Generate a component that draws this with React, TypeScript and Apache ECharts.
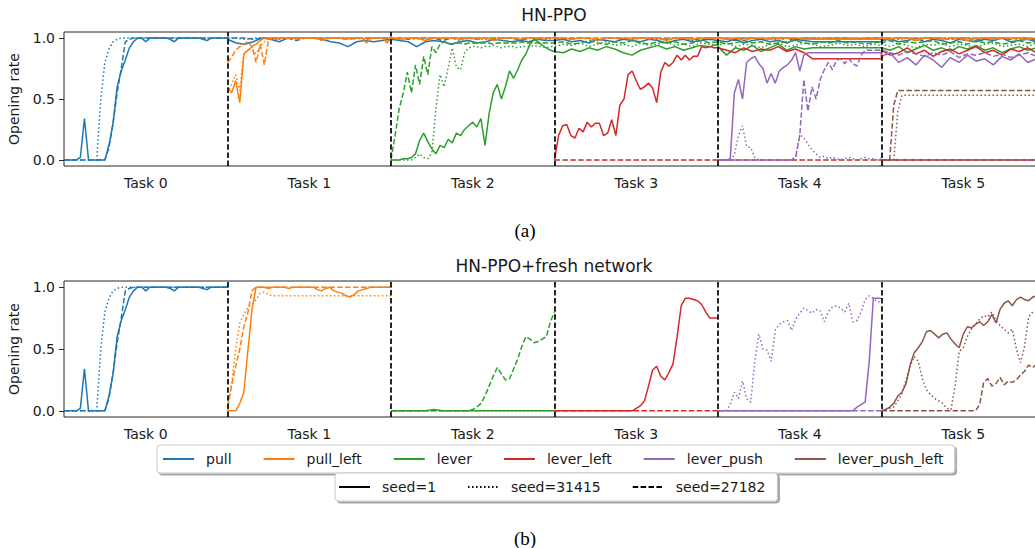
import React, { useEffect, useRef } from "react";
import * as echarts from "echarts";

// ---------- categories / labels ----------
const TASK_LABELS = ["Task 0", "Task 1", "Task 2", "Task 3", "Task 4", "Task 5"];
const TASK_LABEL_POS = [0.5, 1.5, 2.5, 3.5, 4.5, 5.5];
const TASK_BOUNDARIES = [1, 2, 3, 4, 5];
const Y_TICKS = [0, 0.5, 1];
const ENVS = ["pull", "pull_left", "lever", "lever_left", "lever_push", "lever_push_left"];
const ENV_COLORS = ["#1f77b4", "#ff7f0e", "#2ca02c", "#d62728", "#9467bd", "#8c564b"];
const SEEDS = ["seed=1", "seed=31415", "seed=27182"];
const TITLES = ["HN-PPO", "HN-PPO+fresh network"];
const CAPTIONS = ["(a)", "(b)"];

// ---------- HN-PPO (top) : one list per task segment, starting at the run's own task ----------
const hnPull1 = [
  [0, 0, 0, 0, 0.02, 0.34, 0, 0, 0, 0, 0, 0.12, 0.3, 0.6, 0.73, 0.82, 0.92, 0.97, 1, 1, 0.97, 1, 1, 1, 1, 1, 0.99, 0.97, 1, 1, 1, 1, 1, 1, 0.99, 0.98, 1, 1, 1, 1, 1],
  [0.99, 0.96, 0.95, 0.97, 1, 0.99, 0.97, 1, 1, 1, 1, 0.99, 0.97, 0.96, 0.93, 0.97, 0.98, 0.97, 0.98, 0.99],
  [0.99, 0.98, 0.97, 0.93, 0.97, 0.98, 0.97, 0.95, 0.97, 0.98, 0.96, 0.97, 0.99, 0.98, 0.97, 0.98, 0.97, 0.99, 0.98, 0.98],
  [0.98, 0.99, 0.97, 0.98, 0.96, 0.99, 0.98, 0.97, 0.99, 0.98, 0.97, 0.99, 0.98, 0.96, 0.98, 0.99, 0.97, 0.98, 0.99, 0.98],
  [0.98, 0.97, 0.99, 0.96, 0.98, 0.99, 0.97, 0.98, 0.96, 0.99, 0.98, 0.97, 0.97, 0.97, 0.97, 0.97, 0.97, 0.97, 0.97, 0.97],
  [0.98, 0.99, 0.97, 0.98, 1, 0.97, 0.99, 0.98, 0.96, 0.99, 0.98, 0.97, 0.99, 0.98, 1, 0.97, 0.98, 0.99, 0.97, 0.98],
];
const hnPull2 = [
  [0, 0, 0, 0, 0, 0, 0, 0, 0, 0.5, 0.8, 0.91, 0.97, 0.99, 1, 1, 1, 1, 1, 1, 1, 1, 1, 1, 1, 1, 1, 1, 1, 1, 1, 1, 1, 1, 1, 1, 1, 1, 1, 1, 1],
  [1, 1, 0.99, 1, 1, 1, 0.99, 1, 1, 1, 1, 0.99, 1, 1, 1, 1, 0.99, 1, 1, 1],
  [1, 0.99, 1, 1, 0.99, 1, 1, 1, 0.98, 1, 1, 0.99, 1, 1, 1, 0.99, 1, 1, 0.99, 1],
  [1, 1, 0.99, 1, 1, 0.98, 1, 1, 1, 0.99, 1, 1, 0.99, 1, 1, 1, 0.98, 1, 1, 1],
  [1, 0.99, 1, 1, 1, 0.99, 1, 0.98, 1, 1, 0.99, 1, 1, 1, 0.99, 1, 1, 0.99, 1, 1],
  [1, 1, 0.99, 1, 0.98, 1, 1, 0.99, 1, 1, 1, 0.99, 1, 0.98, 1, 1, 0.99, 1, 1, 1],
];
const hnPull3 = [
  [0, 0, 0, 0, 0, 0, 0, 0, 0, 0, 0, 0.1, 0.3, 0.55, 0.75, 0.97, 0.99, 1, 1, 1, 1, 1, 1, 1, 1, 1, 1, 1, 1, 1, 1, 1, 1, 1, 1, 1, 1, 1, 1, 1, 1],
  [1, 1, 1, 0.99, 1, 1, 1, 1, 0.98, 1, 1, 1, 1, 1, 0.99, 1, 1, 1, 1, 1],
  [1, 1, 0.99, 1, 1, 1, 0.98, 1, 1, 1, 0.99, 1, 1, 1, 1, 0.98, 1, 1, 1, 1],
  [1, 0.99, 1, 1, 1, 0.98, 1, 1, 0.99, 1, 1, 1, 1, 0.99, 1, 1, 1, 0.98, 1, 1],
  [1, 1, 0.98, 1, 1, 0.99, 1, 1, 1, 0.98, 1, 1, 0.99, 1, 1, 1, 0.99, 1, 1, 1],
  [1, 0.99, 1, 1, 0.98, 1, 1, 1, 0.99, 1, 1, 0.98, 1, 1, 1, 0.99, 1, 1, 0.98, 1],
];
const hnPullLeft1 = [
  [0.6, 0.55, 0.65, 0.47, 0.87, 0.9, 0.93, 0.95, 0.98, 1, 1, 1, 0.99, 1, 1, 1, 1, 0.99, 1, 1, 1, 1, 1, 0.98, 1, 1, 1, 1, 1, 0.99, 1, 1, 1, 1, 0.96, 1, 1, 1, 1, 0.96, 1],
  [1, 0.99, 1, 1, 0.98, 1, 1, 1, 0.99, 1, 1, 1, 0.98, 1, 1, 0.99, 1, 1, 1, 1],
  [1, 1, 0.99, 1, 1, 0.98, 1, 1, 1, 0.99, 1, 1, 1, 0.98, 1, 1, 0.99, 1, 1, 1],
  [1, 0.99, 1, 0.98, 1, 1, 0.99, 1, 1, 1, 0.99, 0.99, 0.99, 0.99, 0.99, 0.99, 0.99, 0.99, 0.99, 0.99],
  [1, 0.99, 1, 1, 0.98, 1, 1, 0.99, 1, 1, 0.98, 1, 1, 0.99, 1, 1, 1, 0.99, 1, 1],
];
const hnPullLeft2 = [
  [0.55, 0.62, 0.7, 0.57, 0.88, 0.9, 0.91, 0.87, 0.93, 0.97, 1, 1, 1, 1, 0.99, 1, 1, 1, 1, 1, 1, 1, 0.99, 1, 1, 1, 1, 1, 1, 1, 1, 0.99, 1, 1, 1, 1, 1, 1, 1, 1, 1],
  [1, 1, 1, 0.99, 1, 1, 1, 1, 1, 1, 0.99, 1, 1, 1, 1, 1, 1, 0.99, 1, 1],
  [1, 1, 1, 1, 0.99, 1, 1, 1, 1, 1, 1, 0.99, 1, 1, 1, 1, 1, 1, 1, 1],
  [1, 0.99, 1, 1, 1, 1, 1, 0.99, 1, 1, 1, 1, 1, 1, 0.99, 1, 1, 1, 1, 1],
  [1, 1, 1, 0.99, 1, 1, 1, 1, 1, 0.99, 1, 1, 1, 1, 1, 1, 0.99, 1, 1, 1],
];
const hnPullLeft3 = [
  [0.8, 0.84, 0.9, 0.93, 0.95, 0.97, 0.93, 0.8, 0.95, 0.78, 0.98, 1, 1, 1, 1, 1, 1, 1, 1, 1, 1, 1, 1, 1, 1, 1, 1, 1, 1, 1, 1, 1, 1, 1, 1, 1, 1, 1, 1, 1, 1],
  [1, 1],
  [1, 1],
  [1, 1],
  [1, 1],
];
const hnLever1 = [
  [0, 0, 0, 0.01, 0.01, 0.02, 0.05, 0.16, 0.22, 0.15, 0.09, 0.05, 0.12, 0.1, 0.17, 0.14, 0.22, 0.2, 0.25, 0.28, 0.31, 0.27, 0.34, 0.12, 0.38, 0.55, 0.62, 0.5, 0.6, 0.73, 0.67, 0.74, 0.82, 0.87, 0.95, 0.99, 0.97, 0.94, 0.92, 0.9, 0.89],
  [0.89, 0.88, 0.91, 0.89, 0.92, 0.9, 0.93, 0.91, 0.88, 0.86, 0.9, 0.92, 0.94, 0.91, 0.93, 0.9, 0.92, 0.94, 0.93, 0.95],
  [0.93, 0.86, 0.92, 0.9, 0.94, 0.89, 0.92, 0.95, 0.9, 0.93, 0.91, 0.92, 0.92, 0.92, 0.92, 0.92, 0.92, 0.92, 0.92, 0.92],
  [0.92, 0.9, 0.93, 0.88, 0.91, 0.94, 0.9, 0.92, 0.89, 0.93, 0.91, 0.94, 0.9, 0.92, 0.88, 0.91, 0.93, 0.9, 0.92, 0.91],
];
const hnLever2 = [
  [0, 0, 0, 0, 0, 0, 0.02, 0.05, 0.02, 0.01, 0.06, 0.42, 0.7, 0.6, 0.76, 0.92, 0.76, 0.74, 0.88, 0.92, 0.93, 0.93, 0.92, 0.93, 0.93, 0.94, 0.93, 0.92, 0.93, 0.93, 0.93, 0.92, 0.93, 0.93, 0.93, 0.94, 0.93, 0.93, 0.92, 0.93, 0.93],
  [0.93, 0.95, 0.94, 0.96, 0.93, 0.95, 0.97, 0.94, 0.95, 0.93, 0.96, 0.94, 0.95, 0.97, 0.94, 0.95, 0.93, 0.96, 0.95, 0.94],
  [0.94, 0.96, 0.93, 0.95, 0.94, 0.92, 0.95, 0.96, 0.93, 0.94, 0.96, 0.95, 0.93, 0.94, 0.96, 0.94, 0.95, 0.93, 0.95, 0.94],
  [0.95, 0.93, 0.96, 0.94, 0.92, 0.95, 0.94, 0.96, 0.93, 0.95, 0.94, 0.92, 0.95, 0.96, 0.93, 0.94, 0.95, 0.93, 0.96, 0.94],
];
const hnLever3 = [
  [0, 0.2, 0.42, 0.55, 0.72, 0.55, 0.78, 0.62, 0.85, 0.7, 0.93, 0.88, 0.95, 0.97, 0.96, 0.95, 0.96, 0.96, 0.95, 0.96, 0.96, 0.96, 0.96, 0.96, 0.96, 0.95, 0.96, 0.96, 0.96, 0.96, 0.96, 0.96, 0.97, 0.96, 0.96, 0.96, 0.96, 0.96, 0.96, 0.96, 0.96],
  [0.96, 0.97, 0.95, 0.96, 0.98, 0.96, 0.95, 0.97, 0.96, 0.98, 0.96, 0.95, 0.97, 0.96, 0.97, 0.95, 0.96, 0.98, 0.96, 0.97],
  [0.97, 0.95, 0.96, 0.98, 0.96, 0.97, 0.95, 0.96, 0.97, 0.98, 0.96, 0.95, 0.97, 0.96, 0.98, 0.96, 0.97, 0.95, 0.96, 0.97],
  [0.96, 0.98, 0.95, 0.97, 0.96, 0.97, 0.98, 0.95, 0.96, 0.97, 0.95, 0.98, 0.96, 0.97, 0.95, 0.96, 0.98, 0.96, 0.97, 0.96],
];
const hnLeverLeft1 = [
  [0, 0.2, 0.28, 0.29, 0.2, 0.18, 0.26, 0.23, 0.31, 0.27, 0.3, 0.3, 0.2, 0.22, 0.33, 0.2, 0.45, 0.5, 0.7, 0.73, 0.65, 0.58, 0.6, 0.63, 0.59, 0.47, 0.72, 0.8, 0.77, 0.8, 0.86, 0.82, 0.86, 0.82, 0.85, 0.85, 0.93, 0.92, 0.93, 0.92, 0.92],
  [0.92, 0.9, 0.88, 0.92, 0.89, 0.91, 0.9, 0.93, 0.89, 0.91, 0.88, 0.83, 0.83, 0.83, 0.83, 0.83, 0.83, 0.83, 0.83, 0.83],
  [0.9, 0.86, 0.88, 0.92, 0.87, 0.9, 0.85, 0.89, 0.91, 0.87, 0.9, 0.93, 0.88, 0.9, 0.86, 0.91, 0.89, 0.92, 0.88, 0.9],
];
const hnLeverLeft3 = [[0, 0], [0, 0], [0, 0]];
const hnLeverPush1 = [
  [0, 0, 0, 0.01, 0.55, 0.66, 0.5, 0.8, 0.83, 0.85, 0.79, 0.75, 0.63, 0.71, 0.63, 0.73, 0.76, 0.78, 0.82, 0.88, 0.73, 0.86, 0.88, 0.88, 0.88, 0.88, 0.88, 0.88, 0.88, 0.88, 0.88, 0.88, 0.88, 0.88, 0.88, 0.88, 0.88, 0.88, 0.88, 0.88, 0.88],
  [0.85, 0.88, 0.8, 0.84, 0.78, 0.86, 0.82, 0.76, 0.84, 0.8, 0.86, 0.81, 0.83, 0.78, 0.85, 0.82, 0.87, 0.8, 0.83, 0.79],
];
const hnLeverPush2 = [
  [0, 0, 0, 0, 0.04, 0.2, 0.28, 0.11, 0.1, 0.02, 0, 0, 0, 0, 0, 0, 0, 0, 0, 0.03, 0.21, 0.18, 0.13, 0.08, 0.05, 0.02, 0.03, 0.01, 0.02, 0.01, 0, 0.01, 0.02, 0.01, 0, 0.01, 0.02, 0.01, 0.01, 0, 0.01],
  [0, 0],
];
const hnLeverPush3 = [
  [0, 0, 0, 0, 0, 0, 0, 0, 0, 0, 0, 0, 0, 0, 0, 0, 0, 0, 0, 0.02, 0.2, 0.66, 0.4, 0.6, 0.5, 0.66, 0.74, 0.8, 0.74, 0.82, 0.83, 0.79, 0.83, 0.79, 0.77, 0.86, 0.9, 0.9, 0.9, 0.9, 0.9],
  [0.9, 0.88, 0.86, 0.89, 0.87, 0.85, 0.88, 0.86, 0.89, 0.84, 0.87, 0.86, 0.88, 0.85, 0.87, 0.84, 0.86, 0.88, 0.85, 0.87],
];
const hnLeverPushLeft1 = [[0, 0]];
const hnLeverPushLeft2 = [
  [0, 0, 0, 0, 0.4, 0.53, 0.53, 0.53, 0.53, 0.53, 0.53, 0.53, 0.53, 0.53, 0.53, 0.53, 0.53, 0.53, 0.53, 0.53, 0.53, 0.53, 0.53, 0.53, 0.53, 0.53, 0.53, 0.53, 0.53, 0.53, 0.53, 0.53, 0.53, 0.53, 0.53, 0.53, 0.53, 0.53, 0.53, 0.53, 0.53],
];
const hnLeverPushLeft3 = [
  [0, 0, 0, 0.45, 0.57, 0.57, 0.57, 0.57, 0.57, 0.57, 0.57, 0.57, 0.57, 0.57, 0.57, 0.57, 0.57, 0.57, 0.57, 0.57, 0.57, 0.57, 0.57, 0.57, 0.57, 0.57, 0.57, 0.57, 0.57, 0.57, 0.57, 0.57, 0.57, 0.57, 0.57, 0.57, 0.57, 0.57, 0.57, 0.57, 0.57],
];

// ---------- HN-PPO + fresh network (bottom): each env only on its own task ----------
const frPullLeft1 = [0, 0, 0, 0.06, 0.15, 0.49, 0.82, 1, 1, 1, 0.99, 1, 1, 1, 1, 0.99, 1, 1, 1, 1, 1, 1, 0.98, 0.97, 0.99, 1, 0.97, 0.96, 0.95, 0.93, 0.92, 0.94, 0.97, 0.98, 0.99, 1, 1, 1, 1, 1, 1];
const frPullLeft2 = [0, 0.22, 0.5, 0.71, 0.78, 0.84, 0.86, 0.9, 0.95, 0.96, 0.94, 0.93, 0.93, 0.93, 0.93, 0.93, 0.93, 0.93, 0.93, 0.93, 0.93, 0.93, 0.93, 0.93, 0.93, 0.93, 0.93, 0.93, 0.93, 0.93, 0.93, 0.93, 0.93, 0.93, 0.93, 0.93, 0.93, 0.93, 0.93, 0.93, 0.93];
const frPullLeft3 = [0.03, 0.2, 0.36, 0.5, 0.68, 0.8, 0.97, 1, 1, 1, 1, 1, 1, 1, 1, 1, 1, 1, 1, 1, 1, 1, 1, 1, 1, 1, 1, 1, 1, 1, 1, 1, 1, 1, 1, 1, 1, 1, 1, 1, 1];
const frLever1 = [0, 0, 0, 0, 0, 0.01, 0, 0, 0, 0, 0, 0, 0, 0, 0, 0, 0, 0, 0, 0];
const frLever2 = [0, 0];
const frLever3 = [0, 0, 0, 0, 0, 0, 0, 0, 0, 0, 0, 0, 0, 0, 0, 0, 0, 0, 0, 0, 0.01, 0.03, 0.06, 0.12, 0.2, 0.28, 0.35, 0.3, 0.25, 0.26, 0.34, 0.42, 0.52, 0.6, 0.58, 0.55, 0.56, 0.58, 0.6, 0.72, 0.8];
const frLeverLeft1 = [0, 0, 0, 0, 0, 0, 0, 0, 0, 0, 0, 0, 0, 0, 0, 0, 0, 0, 0, 0, 0.02, 0.04, 0.08, 0.2, 0.33, 0.36, 0.28, 0.25, 0.31, 0.38, 0.6, 0.85, 0.91, 0.91, 0.9, 0.89, 0.86, 0.8, 0.75, 0.75, 0.75];
const frLeverLeft3 = [0, 0];
const frLeverPush1 = [0, 0, 0, 0, 0, 0, 0, 0, 0, 0, 0, 0, 0, 0, 0, 0, 0, 0, 0, 0, 0, 0, 0, 0, 0, 0, 0, 0, 0, 0, 0, 0, 0, 0, 0.03, 0.05, 0.07, 0.4, 0.91, 0.91, 0.91];
const frLeverPush2 = [0, 0, 0, 0.05, 0.15, 0.1, 0.24, 0.1, 0.07, 0.4, 0.62, 0.5, 0.49, 0.4, 0.65, 0.7, 0.72, 0.73, 0.65, 0.74, 0.79, 0.83, 0.81, 0.79, 0.82, 0.81, 0.72, 0.8, 0.84, 0.85, 0.83, 0.8, 0.87, 0.72, 0.73, 0.8, 0.9, 0.93, 0.91, 0.88, 0.88];
const frLeverPush3 = [0, 0];
const frLeverPushLeft1 = [0, 0.01, 0.03, 0.06, 0.12, 0.15, 0.22, 0.37, 0.47, 0.51, 0.56, 0.64, 0.65, 0.62, 0.59, 0.62, 0.63, 0.58, 0.54, 0.51, 0.62, 0.68, 0.67, 0.7, 0.72, 0.69, 0.72, 0.78, 0.71, 0.82, 0.87, 0.89, 0.85, 0.9, 0.92, 0.9, 0.89, 0.92, 0.93, 0.91, 0.92];
const frLeverPushLeft2 = [0, 0.01, 0.02, 0.03, 0.08, 0.14, 0.25, 0.36, 0.44, 0.4, 0.26, 0.17, 0.13, 0.1, 0.08, 0.06, 0.02, 0.01, 0.2, 0.48, 0.51, 0.6, 0.66, 0.7, 0.74, 0.77, 0.76, 0.8, 0.73, 0.69, 0.66, 0.63, 0.66, 0.5, 0.39, 0.52, 0.76, 0.8, 0.81, 0.8, 0.82];
const frLeverPushLeft3 = [0, 0, 0, 0, 0, 0, 0, 0, 0, 0, 0, 0, 0, 0, 0, 0, 0, 0, 0, 0, 0, 0, 0, 0, 0.05, 0.23, 0.26, 0.2, 0.22, 0.27, 0.21, 0.24, 0.23, 0.25, 0.29, 0.32, 0.37, 0.35, 0.38, 0.36, 0.4];

type Run = { env: number; seed: number; start: number; segs: number[][]; z?: number };

const TOP_RUNS: Run[] = [
  { env: 0, seed: 0, start: 0, segs: hnPull1 },
  { env: 0, seed: 1, start: 0, segs: hnPull2 },
  { env: 0, seed: 2, start: 0, segs: hnPull3 },
  { env: 1, seed: 0, start: 1, segs: hnPullLeft1 },
  { env: 1, seed: 1, start: 1, segs: hnPullLeft2 },
  { env: 1, seed: 2, start: 1, segs: hnPullLeft3 },
  { env: 2, seed: 0, start: 2, segs: hnLever1 },
  { env: 2, seed: 1, start: 2, segs: hnLever2 },
  { env: 2, seed: 2, start: 2, segs: hnLever3 },
  { env: 3, seed: 0, start: 3, segs: hnLeverLeft1 },
  { env: 3, seed: 2, start: 3, segs: hnLeverLeft3 },
  { env: 4, seed: 0, start: 4, segs: hnLeverPush1 },
  { env: 4, seed: 1, start: 4, segs: hnLeverPush2 },
  { env: 4, seed: 2, start: 4, segs: hnLeverPush3 },
  { env: 5, seed: 0, start: 5, segs: hnLeverPushLeft1, z: 1 },
  { env: 5, seed: 1, start: 5, segs: hnLeverPushLeft2 },
  { env: 5, seed: 2, start: 5, segs: hnLeverPushLeft3 },
];

const BOTTOM_RUNS: Run[] = [
  { env: 0, seed: 0, start: 0, segs: [hnPull1[0]] },
  { env: 0, seed: 1, start: 0, segs: [hnPull2[0]] },
  { env: 0, seed: 2, start: 0, segs: [hnPull3[0]] },
  { env: 1, seed: 0, start: 1, segs: [frPullLeft1] },
  { env: 1, seed: 1, start: 1, segs: [frPullLeft2] },
  { env: 1, seed: 2, start: 1, segs: [frPullLeft3] },
  { env: 2, seed: 0, start: 2, segs: [frLever1] },
  { env: 2, seed: 1, start: 2, segs: [frLever2] },
  { env: 2, seed: 2, start: 2, segs: [frLever3] },
  { env: 3, seed: 0, start: 3, segs: [frLeverLeft1] },
  { env: 3, seed: 2, start: 3, segs: [frLeverLeft3] },
  { env: 4, seed: 0, start: 4, segs: [frLeverPush1] },
  { env: 4, seed: 1, start: 4, segs: [frLeverPush2] },
  { env: 4, seed: 2, start: 4, segs: [frLeverPush3] },
  { env: 5, seed: 0, start: 5, segs: [frLeverPushLeft1] },
  { env: 5, seed: 1, start: 5, segs: [frLeverPushLeft2] },
  { env: 5, seed: 2, start: 5, segs: [frLeverPushLeft3] },
];

const SEED_DASH: any[] = ["solid", [1.5, 2.5], [5.5, 2.4]];
const FONT = "DejaVu Sans";
const TXT = "#1a1a1a";

function toPoints(start: number, segs: number[][]) {
  const pts: number[][] = [];
  segs.forEach((seg, k) => {
    const n = seg.length;
    seg.forEach((v, i) => pts.push([start + k + i / (n - 1), v]));
  });
  return pts;
}

function buildSeries(runs: Run[], g: number) {
  return runs.map((r, idx) => {
    const s: any = {
      type: "line",
      name: ENVS[r.env],
      xAxisIndex: g,
      yAxisIndex: g,
      data: toPoints(r.start, r.segs),
      symbol: "none",
      showSymbol: false,
      color: ENV_COLORS[r.env],
      lineStyle: { color: ENV_COLORS[r.env], width: 1.5, type: SEED_DASH[r.seed], cap: "butt" },
      z: r.z ?? 2,
      silent: true,
      emphasis: { disabled: true },
    };
    if (idx === 0) {
      s.markLine = {
        silent: true,
        symbol: ["none", "none"],
        label: { show: false },
        lineStyle: { color: "#111111", width: 1.8, type: [5.5, 2.6] },
        emphasis: { disabled: true },
        data: TASK_BOUNDARIES.map((b) => ({ xAxis: b })),
      };
    }
    return s;
  });
}

export default function App() {
  const ref = useRef<HTMLDivElement>(null);
  useEffect(() => {
    if (!ref.current) return;
    const chart = echarts.init(ref.current, undefined, { renderer: "svg" });
    const xAxisBase = (g: number) => ({
      type: "value",
      gridIndex: g,
      min: 0,
      max: 6,
      axisLine: { show: false },
      axisTick: { show: false },
      splitLine: { show: false },
      axisLabel: {
        customValues: TASK_LABEL_POS,
        formatter: (v: number) => TASK_LABELS[Math.floor(v)],
        fontSize: 14,
        fontFamily: FONT,
        color: TXT,
        margin: 10,
      },
    });
    const yAxisBase = (g: number) => ({
      type: "value",
      gridIndex: g,
      min: -0.05,
      max: 1.05,
      name: "Opening rate",
      nameLocation: "middle",
      nameGap: 43,
      nameTextStyle: { fontSize: 14, fontFamily: FONT, color: TXT },
      axisLine: { show: false },
      axisTick: { show: true, customValues: Y_TICKS, length: 5, lineStyle: { color: "#262626", width: 1 } },
      splitLine: { show: false },
      axisLabel: {
        customValues: Y_TICKS,
        formatter: (v: number) => v.toFixed(1),
        fontSize: 14,
        fontFamily: FONT,
        color: TXT,
        margin: 9,
      },
    });
    const legendBase = {
      orient: "horizontal",
      itemWidth: 31,
      itemHeight: 14,
      itemGap: 31,
      selectedMode: false,
      backgroundColor: "#ffffff",
      borderColor: "#c8c8c8",
      borderWidth: 1,
      borderRadius: 3,
      shadowColor: "rgba(0,0,0,0.35)",
      shadowBlur: 1,
      shadowOffsetX: 2,
      shadowOffsetY: 2,
      itemStyle: { opacity: 0, color: "rgba(0,0,0,0)", borderColor: "rgba(0,0,0,0)", borderWidth: 0 },
      textStyle: { fontSize: 14, fontFamily: FONT, color: TXT, padding: [0, 0, 0, 7] },
    };
    const seedSeries = SEEDS.map((name, i) => ({
      type: "line",
      name,
      xAxisIndex: 0,
      yAxisIndex: 0,
      data: [],
      symbol: "none",
      color: "#000000",
      lineStyle: { color: "#000000", width: i === 0 ? 2 : 1.8, type: SEED_DASH[i], cap: "butt" },
    }));
    const gridBase = { left: 64, width: 981, show: true, borderColor: "#262626", borderWidth: 1, backgroundColor: "transparent", containLabel: false, outerBoundsMode: "none" };
    const option: any = {
      animation: false,
      backgroundColor: "#ffffff",
      grid: [
        { ...gridBase, top: 32, height: 134 },
        { ...gridBase, top: 281, height: 136 },
      ],
      xAxis: [xAxisBase(0), xAxisBase(1)],
      yAxis: [yAxisBase(0), yAxisBase(1)],
      legend: [
        { ...legendBase, data: ENVS, left: 157, top: 445, padding: [7, 11, 7, 5] },
        { ...legendBase, data: SEEDS, left: 335, top: 473, padding: [7, 12, 7, 3] },
      ],
      graphic: [
        { type: "text", x: 554, y: 15, style: { text: TITLES[0], font: `17px '${FONT}'`, fill: TXT, textAlign: "center", textVerticalAlign: "middle" } },
        { type: "text", x: 554, y: 266, style: { text: TITLES[1], font: `17px '${FONT}'`, fill: TXT, textAlign: "center", textVerticalAlign: "middle" } },
        { type: "text", x: 525, y: 230, style: { text: CAPTIONS[0], font: "19px 'Liberation Serif'", fill: "#000", textAlign: "center", textVerticalAlign: "middle" } },
        { type: "text", x: 525, y: 538, style: { text: CAPTIONS[1], font: "19px 'Liberation Serif'", fill: "#000", textAlign: "center", textVerticalAlign: "middle" } },
      ],
      series: [...buildSeries(TOP_RUNS, 0), ...buildSeries(BOTTOM_RUNS, 1), ...seedSeries],
    };
    chart.setOption(option);
    return () => chart.dispose();
  }, []);
  return <div ref={ref} style={{ position: "fixed", left: 0, top: 0, width: 1035, height: 548 }} />;
}
